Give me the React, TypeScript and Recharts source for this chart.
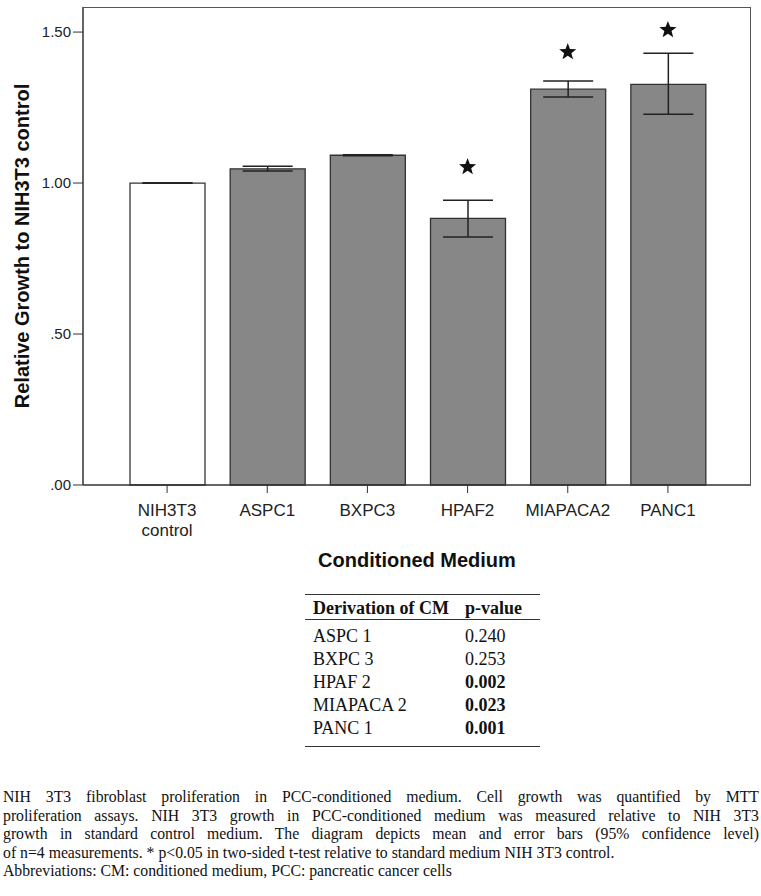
import React from 'react';
import {
  ComposedChart,
  Bar,
  Cell,
  ErrorBar,
  Scatter,
  XAxis,
  YAxis,
} from 'recharts';

const categories = ['NIH3T3 control', 'ASPC1', 'BXPC3', 'HPAF2', 'MIAPACA2', 'PANC1'];
const means = [1.0, 1.047, 1.092, 0.883, 1.311, 1.327];
const ciLow = [1.0, 1.04, 1.09, 0.821, 1.285, 1.228];
const ciHigh = [1.0, 1.056, 1.094, 0.943, 1.338, 1.43];
const stars = [null, null, null, 1.053, 1.434, 1.507];
const barFills = ['#ffffff', '#878787', '#878787', '#878787', '#878787', '#878787'];
const yTicks = [0, 0.5, 1.0, 1.5];

const tableRows = ['ASPC 1', 'BXPC 3', 'HPAF 2', 'MIAPACA 2', 'PANC 1'];
const pValues = ['0.240', '0.253', '0.002', '0.023', '0.001'];
const pBold = [false, false, true, true, true];

const captionLines = [
  'NIH 3T3 fibroblast proliferation in PCC-conditioned medium. Cell growth was quantified by MTT',
  'proliferation assays. NIH 3T3 growth in PCC-conditioned medium was measured relative to NIH 3T3',
  'growth in standard control medium. The diagram depicts mean and error bars (95% confidence level)',
  'of n=4 measurements. * p<0.05 in two-sided t-test relative to standard medium NIH 3T3 control.',
  'Abbreviations: CM: conditioned medium, PCC: pancreatic cancer cells',
];

const data = categories.map((name, i) => ({
  name,
  mean: means[i],
  err: [means[i] - ciLow[i], ciHigh[i] - means[i]],
  star: stars[i],
}));

const fmtY = (v: number) => (v < 1 ? v.toFixed(2).replace(/^0/, '') : v.toFixed(2));

const XTick = (props: any) => {
  const { x, y, payload } = props;
  const words = String(payload.value).split(' ');
  return (
    <text x={x} y={y} textAnchor="middle" fill="#222" fontSize={17} fontFamily="Liberation Sans, Arial, sans-serif">
      {words.map((w, i) => (
        <tspan key={i} x={x} dy={i === 0 ? 21 : 20}>
          {w}
        </tspan>
      ))}
    </text>
  );
};

const StarShape = (props: any) => {
  const { cx, cy } = props;
  if (!Number.isFinite(cx) || !Number.isFinite(cy)) return null;
  const pts: string[] = [];
  for (let k = 0; k < 10; k++) {
    const r = k % 2 === 0 ? 9 : 3.8;
    const a = -Math.PI / 2 + (k * Math.PI) / 5;
    pts.push(`${cx + r * Math.cos(a)},${cy + r * Math.sin(a)}`);
  }
  return <polygon points={pts.join(' ')} fill="#111" />;
};

const serif = '"Liberation Serif", "Times New Roman", serif';

export default function App() {
  return (
    <div style={{ position: 'absolute', left: 0, top: 0, width: 761, height: 896, background: '#fff' }}>
      <ComposedChart width={761} height={580} data={data} margin={{ top: 7, right: 10, left: 0, bottom: 0 }}>
        <XAxis
          dataKey="name"
          height={95}
          padding={{ left: 34, right: 33 }}
          tick={<XTick />}
          tickSize={8}
          interval={0}
          stroke="#333"
          axisLine={{ stroke: '#333', strokeWidth: 1.5 }}
        />
        <YAxis
          width={83}
          domain={[0, 1.583]}
          ticks={yTicks}
          tickFormatter={fmtY}
          tickSize={10}
          tickMargin={2}
          stroke="#333"
          axisLine={{ stroke: '#333', strokeWidth: 1.5 }}
          tick={{ fill: '#222', fontSize: 15, fontFamily: 'Liberation Sans, Arial, sans-serif' }}
        />
        <Bar dataKey="mean" barSize={75} stroke="#333" strokeWidth={1.3} isAnimationActive={false}>
          {data.map((d, i) => (
            <Cell key={d.name} fill={barFills[i]} />
          ))}
          <ErrorBar dataKey="err" width={25} stroke="#222" strokeWidth={1.5} />
        </Bar>
        <Scatter dataKey="star" shape={<StarShape />} isAnimationActive={false} />
      </ComposedChart>

      {/* plot frame */}
      <div
        style={{
          position: 'absolute',
          left: 83,
          top: 7,
          width: 668,
          height: 478,
          borderTop: '1.5px solid #555',
          borderRight: '1.5px solid #555',
          boxSizing: 'border-box',
          pointerEvents: 'none',
        }}
      />

      <div
        style={{
          position: 'absolute',
          left: 22,
          top: 246,
          transform: 'translate(-50%, -50%) rotate(-90deg)',
          whiteSpace: 'nowrap',
          fontFamily: 'Liberation Sans, Arial, sans-serif',
          fontWeight: 'bold',
          fontSize: 20,
          color: '#111',
        }}
      >
        Relative Growth to NIH3T3 control
      </div>
      <div
        style={{
          position: 'absolute',
          left: 417,
          top: 560,
          transform: 'translate(-50%, -50%)',
          whiteSpace: 'nowrap',
          fontFamily: 'Liberation Sans, Arial, sans-serif',
          fontWeight: 'bold',
          fontSize: 20,
          color: '#111',
        }}
      >
        Conditioned Medium
      </div>

      <table
        style={{
          position: 'absolute',
          left: 305,
          top: 594,
          width: 235,
          tableLayout: 'fixed',
          borderCollapse: 'collapse',
          fontFamily: serif,
          fontSize: 18,
          color: '#111',
          borderTop: '1.5px solid #333',
          borderBottom: '1.5px solid #333',
        }}
      >
        <colgroup>
          <col style={{ width: 160 }} />
          <col style={{ width: 75 }} />
        </colgroup>
        <thead>
          <tr style={{ borderBottom: '1.5px solid #333' }}>
            <th style={{ textAlign: 'left', padding: '3px 0 0 8px', lineHeight: '21px', fontWeight: 'bold' }}>
              Derivation of CM
            </th>
            <th style={{ textAlign: 'left', padding: '3px 0 0 0', lineHeight: '21px', fontWeight: 'bold' }}>
              p-value
            </th>
          </tr>
        </thead>
        <tbody>
          {tableRows.map((r, i) => {
            const pad = `${i === 0 ? 5 : 0}px 0 ${i === tableRows.length - 1 ? 6 : 0}px`;
            return (
              <tr key={r}>
                <td style={{ padding: `${pad} 8px`, lineHeight: '22.9px' }}>{r}</td>
                <td
                  style={{
                    padding: `${pad} 0px`,
                    lineHeight: '22.9px',
                    fontWeight: pBold[i] ? 'bold' : 'normal',
                  }}
                >
                  {pValues[i]}
                </td>
              </tr>
            );
          })}
        </tbody>
      </table>

      <div
        style={{
          position: 'absolute',
          left: 3,
          top: 788,
          width: 756,
          fontFamily: serif,
          fontSize: 15.75,
          lineHeight: '18.5px',
          color: '#111',
        }}
      >
        {captionLines.map((l, i) => (
          <div key={i} style={{ textAlign: 'justify', textAlignLast: i < 3 ? 'justify' : 'left', whiteSpace: 'nowrap' }}>
            {l}
          </div>
        ))}
      </div>
    </div>
  );
}
